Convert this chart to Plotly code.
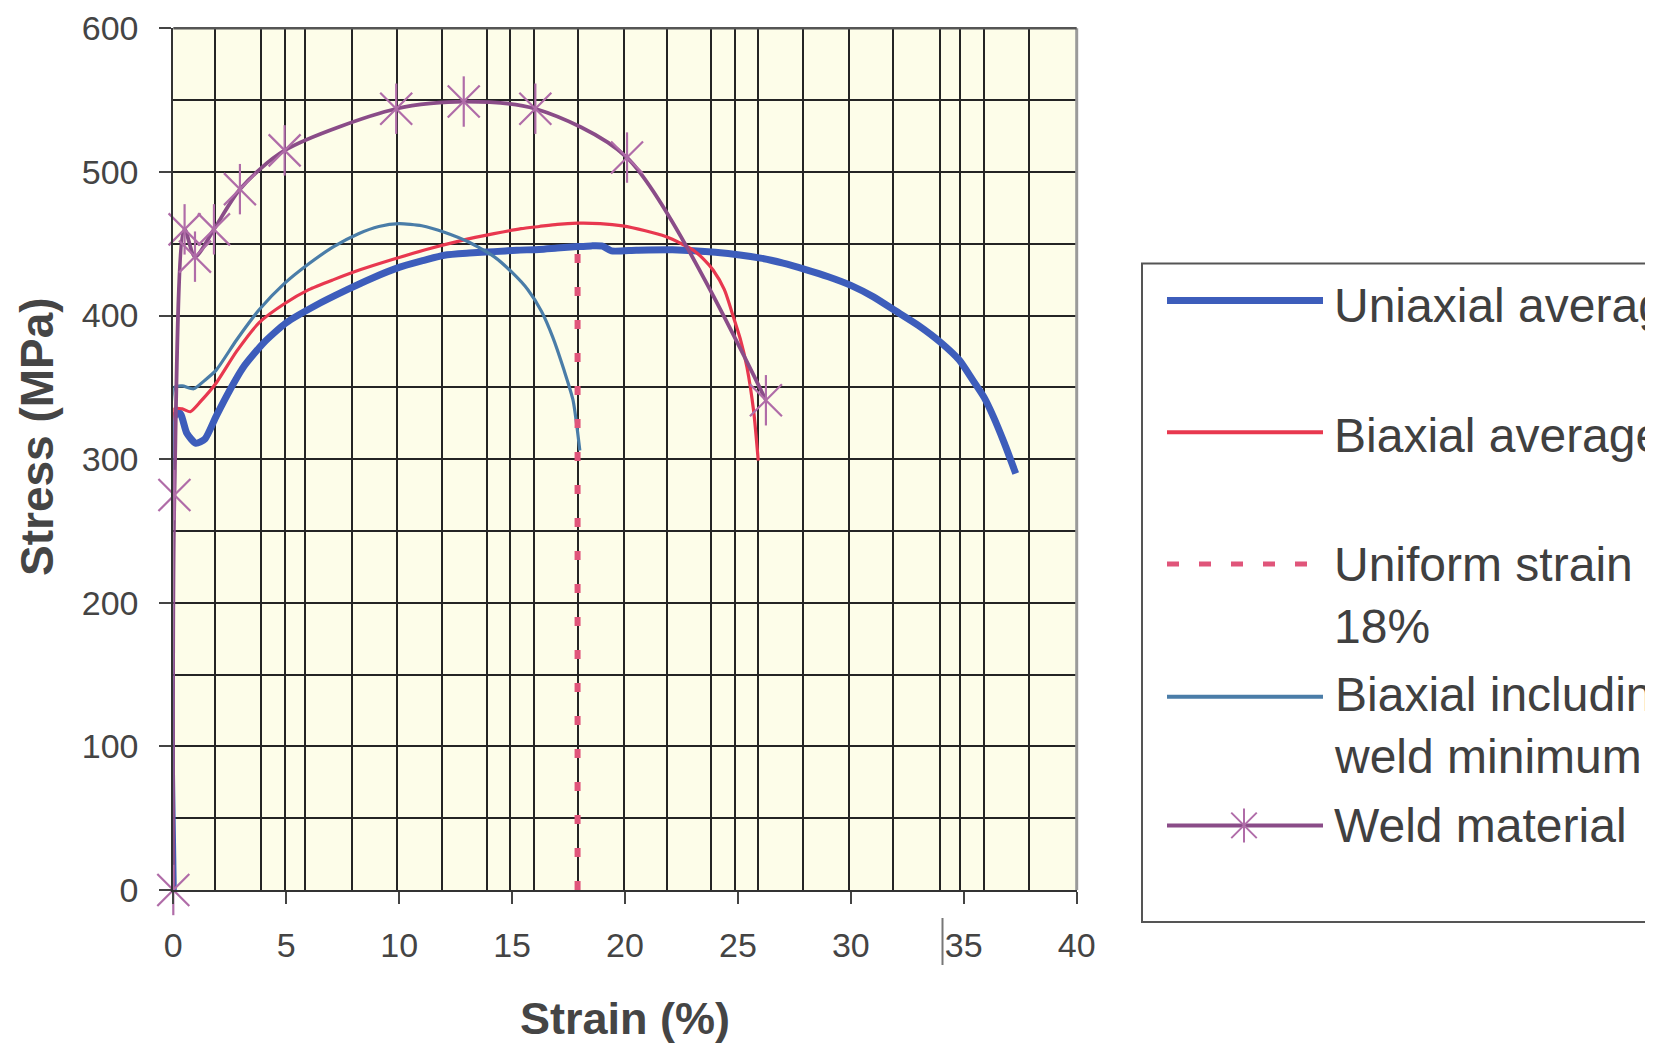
import plotly.graph_objects as go

# ---------------- data ----------------
X_TICKS = [0, 5, 10, 15, 20, 25, 30, 35, 40]
Y_TICKS = [0, 100, 200, 300, 400, 500, 600]
GRID_X = [1.85, 3.9, 4.95, 5.85, 7.9, 9.9, 11.9, 13.9, 14.9, 15.95, 17.9, 19.95,
          21.85, 23.8, 24.85, 25.9, 27.9, 29.9, 31.85, 33.95, 34.85, 35.9, 37.9]
GRID_Y = [50, 150, 250, 350, 450, 550]

UNI_X = [0, 0.05, 0.3, 0.6, 1.0, 1.4, 1.9, 2.5, 3.1, 4.0, 5.0, 6.3, 7.7, 8.8, 9.9, 11.0,
         12.0, 13.1, 14.2, 15.2, 16.2, 17.0, 17.9, 18.5, 19.0, 19.4, 20.5, 22.1, 24.0,
         26.0, 27.0, 28.0, 29.0, 30.0, 31.0, 31.9, 33.0, 34.0, 34.8, 35.4, 35.9, 36.3,
         36.8, 37.3]
UNI_Y = [0, 330, 332, 318, 311, 314, 330, 348, 364, 381, 395, 407, 418, 426, 433, 438,
         442, 443.5, 444.5, 445.5, 446, 447, 448, 448.5, 448.3, 445, 445.5, 445.8, 444,
         440, 436.5, 432, 427, 421, 413, 404, 393, 381, 369, 355, 343, 330, 311, 290]

BI_X = [0, 0.05, 0.4, 0.75, 1.2, 1.9, 2.8, 3.8, 4.9, 6.0, 7.1, 8.3, 9.7, 11.2, 12.7,
        14.2, 15.4, 16.2, 17.0, 17.9, 18.9, 19.9, 20.9, 21.8, 22.5, 23.0, 23.5, 23.9,
        24.4, 24.8, 25.1, 25.4, 25.7, 25.9]
BI_Y = [0, 335, 335, 333, 340, 353, 375, 395, 408, 418, 425, 432, 439, 446, 452,
        457, 460.5, 462, 463.5, 464.3, 464, 462.4, 459, 455, 450, 445.7, 439, 431.7,
        418, 399, 384, 364, 333, 299]

UNIFORM_X = [17.9, 17.9]
UNIFORM_Y = [0, 448]

BW_X = [0, 0.05, 0.4, 0.9, 1.4, 1.9, 2.8, 3.8, 4.9, 6.0, 7.1, 8.2, 9.1, 10.0, 11.0,
        12.0, 13.1, 14.2, 15.0, 15.7, 16.3, 16.8, 17.3, 17.7, 18.0]
BW_Y = [0, 350, 351, 349, 355, 362, 383, 404, 422, 436, 448, 457, 462, 464, 462.5,
        458, 451, 441, 430, 418, 403, 385, 362, 341, 306]

WELD_X = [0, 0.05, 0.5, 0.96, 1.8, 2.95, 4.93, 9.87, 12.86, 16.03, 20.09, 26.24]
WELD_Y = [0, 275, 460, 441, 460, 488, 515, 544, 549, 544, 510, 341]

NAMES = ["Uniaxial average", "Biaxial average", "Uniform strain<br>18%",
         "Biaxial including<br>weld minimum", "Weld material"]
X_TITLE = "Strain (%)"
Y_TITLE = "Stress (MPa)"

# ---------------- styling / layout ----------------
PAGE_OFF = 8  # default body margin of the html page
W, H = 1653 - PAGE_OFF, 1043 - PAGE_OFF
PX_L, PX_R, PX_T, PX_B = 173.3, 1076.7, 28.3, 890.0  # target page pixels
FONT = "Liberation Sans, Arial, sans-serif"
GRID_C = "#242424"

C_UNI = "#3D5DBB"
C_BI = "#E8384F"
C_UNIF = "#E0557A"
C_BW = "#4A7DA8"
C_WELD = "#8A4C88"
C_STAR = "#B06CA8"


def px(x):
    return (x - PAGE_OFF) / W


def py(y):
    return 1 - (y - PAGE_OFF) / H


fig = go.Figure()

fig.add_trace(go.Scatter(x=UNI_X, y=UNI_Y, mode="lines", name="Uniaxial average",
                         line=dict(color=C_UNI, width=7, shape="spline", smoothing=0.6),
                         cliponaxis=False, showlegend=False))
fig.add_trace(go.Scatter(x=BI_X, y=BI_Y, mode="lines", name="Biaxial average",
                         line=dict(color=C_BI, width=3.2, shape="spline", smoothing=0.6),
                         cliponaxis=False, showlegend=False))
fig.add_trace(go.Scatter(x=BW_X, y=BW_Y, mode="lines", name="Biaxial including weld minimum",
                         line=dict(color=C_BW, width=3.2, shape="spline", smoothing=0.6),
                         cliponaxis=False, showlegend=False))
fig.add_trace(go.Scatter(x=UNIFORM_X, y=UNIFORM_Y, mode="lines", name="Uniform strain 18%",
                         line=dict(color=C_UNIF, width=6, dash="9px,24px"),
                         cliponaxis=False, showlegend=False))
fig.add_trace(go.Scatter(x=WELD_X, y=WELD_Y, mode="lines", name="Weld material",
                         line=dict(color=C_WELD, width=3.8, shape="spline", smoothing=0.8),
                         cliponaxis=False, showlegend=False))
fig.add_trace(go.Scatter(x=WELD_X, y=WELD_Y, mode="markers", name="Weld material",
                         marker=dict(symbol="x-thin-open", size=32, color=C_STAR,
                                     line=dict(color=C_STAR, width=2.2)),
                         cliponaxis=False, showlegend=False))
fig.add_trace(go.Scatter(x=WELD_X, y=WELD_Y, mode="markers", name="Weld material",
                         marker=dict(symbol="line-ns-open", size=36, color=C_STAR,
                                     line=dict(color=C_STAR, width=2.2)),
                         cliponaxis=False, showlegend=False))

shapes = []
# right border of plot
shapes.append(dict(type="line", xref="paper", yref="paper", x0=px(PX_R), x1=px(PX_R),
                   y0=py(PX_B), y1=py(PX_T), line=dict(color="#9A9A9A", width=3), layer="above"))
# top border
shapes.append(dict(type="line", xref="paper", yref="paper", x0=px(PX_L), x1=px(PX_R),
                   y0=py(PX_T), y1=py(PX_T), line=dict(color="#555555", width=2.5), layer="above"))
# stray scan mark near the 35 label
shapes.append(dict(type="line", xref="paper", yref="paper", x0=px(942.5), x1=px(942.5),
                   y0=py(918), y1=py(965), line=dict(color="#777777", width=2)))

# legend box
LG_L, LG_T, LG_B = 1142, 263.5, 922
shapes.append(dict(type="rect", xref="paper", yref="paper", x0=px(LG_L), x1=px(1720),
                   y0=py(LG_B), y1=py(LG_T), line=dict(color="#555555", width=2),
                   fillcolor="white"))
LS_X0, LS_X1 = 1167, 1323
LS_Y = [300.4, 432.2, 564.0, 696.8, 825.4]
leg_styles = [dict(color=C_UNI, width=7), dict(color=C_BI, width=4),
              dict(color=C_UNIF, width=5, dash="12px,20px"), dict(color=C_BW, width=4),
              dict(color=C_WELD, width=4)]
for yy, st in zip(LS_Y, leg_styles):
    shapes.append(dict(type="line", xref="paper", yref="paper", x0=px(LS_X0), x1=px(LS_X1),
                       y0=py(yy), y1=py(yy), line=st))
# legend star marker
SX, SY, SR = 1244, 825.4, 17
for (dx0, dy0, dx1, dy1) in [(-SR * 0.75, -SR * 0.75, SR * 0.75, SR * 0.75),
                             (-SR * 0.75, SR * 0.75, SR * 0.75, -SR * 0.75),
                             (0, -SR, 0, SR)]:
    shapes.append(dict(type="line", xref="paper", yref="paper",
                       x0=px(SX + dx0), x1=px(SX + dx1), y0=py(SY + dy0), y1=py(SY + dy1),
                       line=dict(color=C_STAR, width=2)))

annotations = []
TX = 1332
text_y = [305.7, 435.4, 595.5, 725.0, 825.4]
for name, yy in zip(NAMES, text_y):
    annotations.append(dict(xref="paper", yref="paper", x=px(TX), y=py(yy), text=name,
                            showarrow=False, xanchor="left", yanchor="middle", align="left",
                            font=dict(family=FONT, size=48, color="#404040")))
annotations.append(dict(xref="paper", yref="paper", x=px(625), y=py(1018), text="<b>" + X_TITLE + "</b>",
                        showarrow=False, xanchor="center", yanchor="middle",
                        font=dict(family=FONT, size=45, color="#454545")))
annotations.append(dict(xref="paper", yref="paper", x=px(37), y=py(437), text="<b>" + Y_TITLE + "</b>",
                        showarrow=False, xanchor="center", yanchor="middle", textangle=-90,
                        font=dict(family=FONT, size=46, color="#454545")))

fig.update_layout(
    width=W, height=H,
    margin=dict(l=0, r=0, t=0, b=0, pad=0, autoexpand=False),
    paper_bgcolor="white", plot_bgcolor="#FDFDE9",
    showlegend=False,
    font=dict(family=FONT),
    shapes=shapes, annotations=annotations,
    xaxis=dict(domain=[px(PX_L), px(PX_R)], range=[0, 40], tickmode="array", tickvals=X_TICKS,
               ticks="outside", ticklen=12, tickwidth=1.5, tickcolor="#444444",
               showgrid=False, zeroline=False,
               showline=True, linecolor="#333333", linewidth=2,
               minor=dict(tickmode="array", tickvals=GRID_X, showgrid=True,
                          gridcolor=GRID_C, gridwidth=1.9, ticks=""),
               tickfont=dict(family=FONT, size=34, color="#444444"),
               ticklabelstandoff=12, fixedrange=True),
    yaxis=dict(domain=[py(PX_B), py(PX_T)], range=[0, 600], tickmode="array", tickvals=Y_TICKS,
               ticks="outside", ticklen=12, tickwidth=1.5, tickcolor="#444444",
               showgrid=True, gridcolor=GRID_C, gridwidth=1.9, zeroline=False,
               showline=True, linecolor="#333333", linewidth=2,
               minor=dict(tickmode="array", tickvals=GRID_Y, showgrid=True,
                          gridcolor=GRID_C, gridwidth=1.9, ticks=""),
               tickfont=dict(family=FONT, size=34, color="#444444"),
               ticklabelstandoff=14, fixedrange=True),
)

fig.write_html("out.html")
